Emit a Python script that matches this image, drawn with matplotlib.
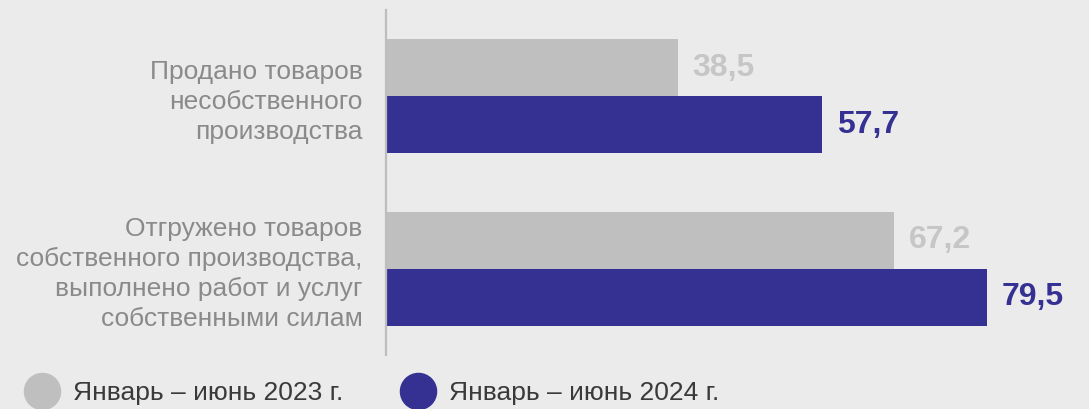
import matplotlib
matplotlib.use('Agg')
import matplotlib.pyplot as plt
from matplotlib.lines import Line2D

# ── data ──────────────────────────────────────────────────────────────────
categories = ['Продано товаров\nнесобственного\nпроизводства',
              'Отгружено товаров\nсобственного производства,\n'
              'выполнено работ и услуг\nсобственными силам']
values_2023 = [38.5, 67.2]
values_2024 = [57.7, 79.5]
series_names = ['Январь – июнь 2023 г.', 'Январь – июнь 2024 г.']

# ── style ─────────────────────────────────────────────────────────────────
BG    = '#ebebeb'
GREY  = '#bfbfbf'
BLUE  = '#353193'
LGREY = '#c6c6c6'
TXT   = '#8a8a8a'

plt.rcParams['font.family'] = ['Liberation Sans', 'DejaVu Sans']

fig = plt.figure(figsize=(10.89, 4.09), dpi=100, facecolor=BG)
ax = fig.add_axes([0.3545, 0.132, 0.644, 0.8435])
ax.set_facecolor(BG)

h = 0.33
ypos = list(range(len(categories)))
ax.barh([y - h / 2 for y in ypos], values_2023, height=h, color=GREY, left=0.15)
ax.barh([y + h / 2 for y in ypos], values_2024, height=h, color=BLUE, left=0.15)

for y, v in zip(ypos, values_2023):
    ax.annotate(f'{v:.1f}'.replace('.', ','), (v, y - h / 2),
                xytext=(16, 0), textcoords='offset pixels',
                ha='left', va='center', fontsize=23, fontweight='bold',
                color=LGREY)
for y, v in zip(ypos, values_2024):
    ax.annotate(f'{v:.1f}'.replace('.', ','), (v, y + h / 2),
                xytext=(16, 0), textcoords='offset pixels',
                ha='left', va='center', fontsize=23, fontweight='bold',
                color=BLUE)

ax.set_xlim(0, 93)
ax.set_ylim(1.5, -0.5)
ax.set_xticks([])
ax.set_yticks(ypos)
ax.set_yticklabels(categories, fontsize=19, color=TXT, linespacing=1.32)
ax.tick_params(axis='y', length=0, pad=17)
for s in ['top', 'right', 'bottom']:
    ax.spines[s].set_visible(False)
ax.spines['left'].set_color('#bdbdbd')
ax.spines['left'].set_linewidth(1.6)

handles = [Line2D([], [], ls='none', marker='o', markersize=26,
                  markerfacecolor=c, markeredgecolor=c)
           for c in (GREY, BLUE)]
fig.legend(handles, series_names, loc='lower left',
           bbox_to_anchor=(0.002, -0.048), ncol=2, frameon=False,
           fontsize=19, handlelength=1.2, handletextpad=0.6,
           columnspacing=2.2, labelcolor='#3a3a3a')

fig.savefig('out.png', dpi=100, facecolor=BG)
